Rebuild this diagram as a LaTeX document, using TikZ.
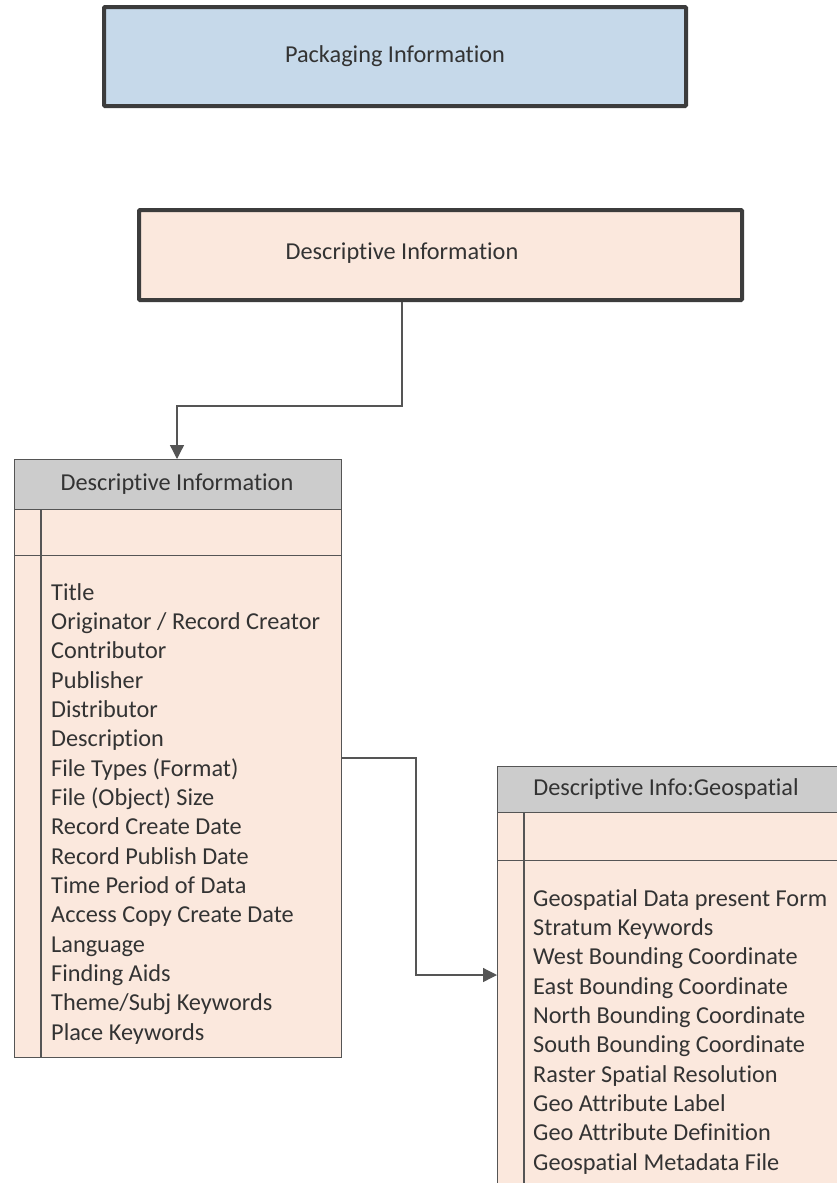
\documentclass[tikz,border=0pt]{standalone}
\usepackage{fontspec}
\setmainfont{Carlito}[RawFeature={-liga;-clig;-calt;-dlig;-rlig}]
\usetikzlibrary{arrows.meta,calc}
\definecolor{boxblue}{HTML}{C6D9EA}
\definecolor{peach}{HTML}{FBE8DD}
\definecolor{hdrgray}{HTML}{CCCCCC}
\definecolor{edge}{HTML}{3C3C3C}
\definecolor{tline}{HTML}{555555}
\definecolor{txt}{HTML}{333333}
\tikzset{
  bigbox/.style={draw=edge, line width=4pt, rounded corners=1pt, inner sep=0pt, anchor=north west, text=txt, font=\fontsize{24.3}{29.3}\selectfont},
  tcell/.style={draw=tline, line width=1.3pt, inner sep=0pt, anchor=north west, text=txt, font=\fontsize{24.3}{29.3}\selectfont},
  listtext/.style={inner sep=0pt, anchor=north west, align=left, text=txt, font=\fontsize{24.3}{29.33}\selectfont},
  conn/.style={draw=tline, line width=1.3pt, -{Triangle[length=14pt,width=14pt]}}
}
\begin{document}
\begin{tikzpicture}[x=1pt,y=-1pt]
\useasboundingbox (0,0) rectangle (836,1183);
\fill[white] (0,0) rectangle (836,1183);
% top boxes
\node[bigbox, fill=boxblue, minimum width=582pt, minimum height=99pt] (pack) at (102,5) {Packaging Information};
\node[bigbox, fill=peach, minimum width=603pt, minimum height=90pt] (descbox) at (137,208) {};
\node[inner sep=0pt, text=txt, font=\fontsize{24.3}{29.3}\selectfont] (desctext) at (402,253) {Descriptive Information};
% left table
\node[tcell, fill=hdrgray, minimum width=327pt, minimum height=50pt] (lhead) at (14,459) {};
\node[inner sep=0pt, text=txt, font=\fontsize{24.3}{29.3}\selectfont] (lheadtxt) at (177,484) {Descriptive Information};
\node[tcell, fill=peach, minimum width=327pt, minimum height=46pt] (lrow) at (14,509) {};
\node[tcell, fill=peach, minimum width=327pt, minimum height=502pt] (lbody) at (14,555) {};
\draw[tline, line width=1.3pt] (41,509) -- (41,1057);
\node[listtext] (llist) at (51,583) {Title\\Originator / Record Creator\\Contributor\\Publisher\\Distributor\\Description\\File Types (Format)\\File (Object) Size\\Record Create Date\\Record Publish Date\\Time Period of Data\\Access Copy Create Date\\Language\\Finding Aids\\Theme/Subj Keywords\\Place Keywords};
% right table
\node[tcell, fill=hdrgray, minimum width=341pt, minimum height=46pt] (rhead) at (497,766) {};
\node[inner sep=0pt, text=txt, font=\fontsize{24.3}{29.3}\selectfont] (rheadtxt) at (666,789) {Descriptive Info:Geospatial};
\node[tcell, fill=peach, minimum width=341pt, minimum height=48pt] (rrow) at (497,812) {};
\node[tcell, fill=peach, minimum width=341pt, minimum height=340pt] (rbody) at (497,860) {};
\draw[tline, line width=1.3pt] (524,812) -- (524,1200);
\node[listtext] (rlist) at (533,889) {Geospatial Data present Form\\Stratum Keywords\\West Bounding Coordinate\\East Bounding Coordinate\\North Bounding Coordinate\\South Bounding Coordinate\\Raster Spatial Resolution\\Geo Attribute Label\\Geo Attribute Definition\\Geospatial Metadata File};
% connectors
\coordinate (c1s) at (descbox.south -| desctext);
\coordinate (c1e) at (lhead.north -| lheadtxt);
\draw[conn] (c1s) -- ++(0,104) -| (c1e);
\coordinate (c2s) at (341,758);
\coordinate (c2e) at (497,975);
\draw[conn] (c2s) -- (416,758) |- (c2e);
\end{tikzpicture}
\end{document}
